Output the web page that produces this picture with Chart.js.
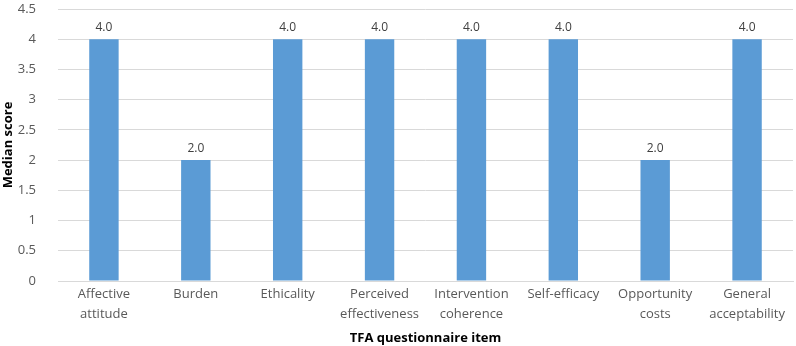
<!DOCTYPE html>
<html>
<head>
<meta charset="utf-8">
<script src="https://cdn.jsdelivr.net/npm/chart.js@4/dist/chart.umd.min.js"></script>
<style>
  html, body { margin: 0; padding: 0; background: #fff; }
  #wrap { width: 796px; height: 346px; }
</style>
</head>
<body>
<div id="wrap"><canvas id="tfaChart"></canvas></div>
<script>
const items = [['Affective', 'attitude'], 'Burden', 'Ethicality', ['Perceived', 'effectiveness'],
  ['Intervention', 'coherence'], 'Self-efficacy', ['Opportunity', 'costs'], ['General', 'acceptability']];
const medianScores = [4, 2, 4, 4, 4, 4, 2, 4];
const yTicks = [0, 0.5, 1, 1.5, 2, 2.5, 3, 3.5, 4, 4.5];

const FONT = "'Open Sans', 'Liberation Sans', sans-serif";

// value labels above each bar
const barLabels = {
  id: 'barLabels',
  afterDatasetsDraw(chart) {
    const ctx = chart.ctx;
    const meta = chart.getDatasetMeta(0);
    ctx.save();
    ctx.font = '12px ' + FONT;
    ctx.fillStyle = '#404040';
    ctx.textAlign = 'center';
    ctx.textBaseline = 'bottom';
    meta.data.forEach((bar, i) => {
      ctx.fillText(medianScores[i].toFixed(1), bar.x, bar.y - 6);
    });
    ctx.restore();
  }
};

new Chart(document.getElementById('tfaChart'), {
  type: 'bar',
  data: {
    labels: items,
    datasets: [{
      data: medianScores,
      backgroundColor: '#5B9BD5',
      barPercentage: 0.32,
      categoryPercentage: 1
    }]
  },
  options: {
    responsive: true,
    maintainAspectRatio: false,
    animation: false,
    layout: { padding: { top: 9, right: 3, left: 0, bottom: 0 } },
    plugins: {
      legend: { display: false },
      tooltip: { enabled: false }
    },
    scales: {
      x: {
        grid: { display: false },
        border: { color: '#d9d9d9' },
        ticks: { color: '#595959', font: { family: FONT, size: 13, lineHeight: 1.55 }, maxRotation: 0, padding: -5 },
        title: { display: true, text: 'TFA questionnaire item', color: '#000',
          font: { family: FONT, size: 13, weight: 'bold' }, padding: { top: 2, bottom: 0 } },
        afterFit(scale) { scale.height = 65; }
      },
      y: {
        min: 0,
        max: 4.5,
        afterBuildTicks(scale) { scale.ticks = yTicks.map(v => ({ value: v })); },
        grid: { color: '#d9d9d9', drawTicks: false },
        border: { display: false },
        ticks: { color: '#595959', font: { family: FONT, size: 13 }, padding: 22,
          callback: v => String(v) },
        title: { display: true, text: 'Median score', color: '#000',
          font: { family: FONT, size: 13, weight: 'bold' }, padding: 0 },
        afterFit(scale) {
          scale.width = 58;
          scale.paddingTop = 0;
          scale.paddingBottom = 0;
        }
      }
    }
  },
  plugins: [barLabels]
});
</script>
</body>
</html>
